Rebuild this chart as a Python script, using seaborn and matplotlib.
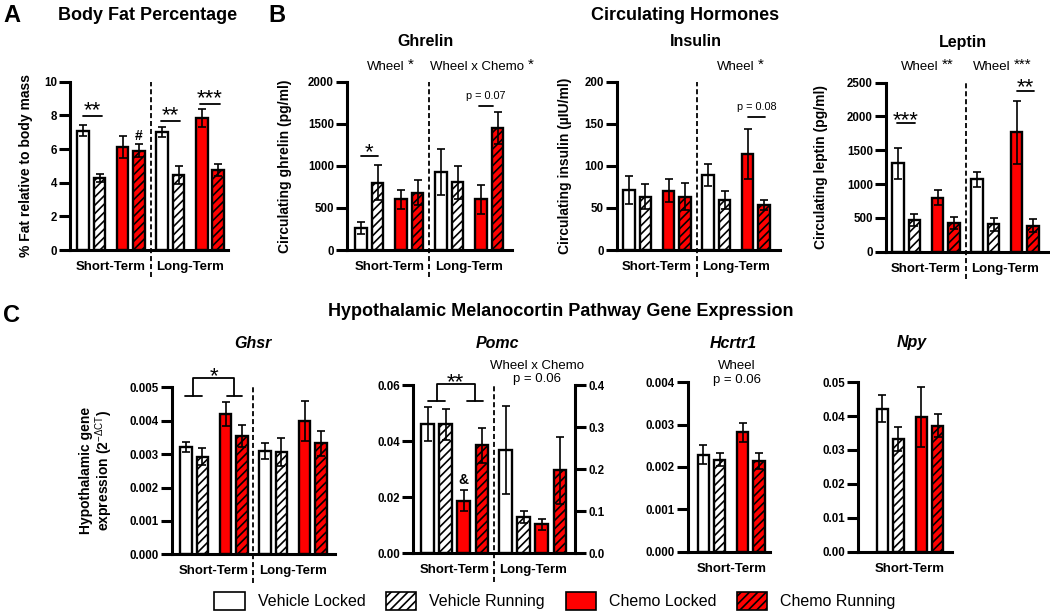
import numpy as np
import pandas as pd
import matplotlib
matplotlib.use("Agg")
import matplotlib.pyplot as plt
import seaborn as sns
from matplotlib.patches import Patch

# ---------------- data ----------------
conditions = ["Vehicle Locked", "Vehicle Running", "Chemo Locked", "Chemo Running"]
periods = ["Short-Term", "Long-Term"]

fat_mean = [7.1, 4.3, 6.1, 5.9, 7.0, 4.45, 7.85, 4.75]
fat_sem = [0.33, 0.23, 0.66, 0.4, 0.3, 0.55, 0.55, 0.38]

ghrelin_mean = [265, 800, 602, 681, 930, 804, 602, 1453]
ghrelin_sem = [70, 205, 112, 150, 275, 195, 170, 190]

insulin_mean = [71.3, 63.4, 70.5, 63.4, 89, 59.4, 114, 53.5]
insulin_sem = [17, 14.6, 13.5, 15.8, 12.7, 11, 30, 6]

leptin_mean = [1306, 469, 799, 429, 1071, 405, 1766, 385]
leptin_sem = [224, 89, 114, 89, 112, 98, 463, 99]

ghsr_mean = [0.00322, 0.00292, 0.00419, 0.00354, 0.00309, 0.00305, 0.00399, 0.00332]
ghsr_sem = [0.00015, 0.00025, 0.00036, 0.00034, 0.00025, 0.00042, 0.00061, 0.00038]

pomc_short_mean = [0.0462, 0.0460, 0.0188, 0.0385]
pomc_short_sem = [0.0060, 0.0055, 0.0036, 0.0063]
pomc_long_mean = [0.246, 0.0865, 0.069, 0.197]
pomc_long_sem = [0.105, 0.015, 0.013, 0.08]

hcrtr1_mean = [0.00229, 0.00217, 0.00282, 0.00214]
hcrtr1_sem = [0.00023, 0.00015, 0.00022, 0.00018]

npy_mean = [0.0422, 0.0332, 0.0398, 0.0372]
npy_sem = [0.0040, 0.0036, 0.0088, 0.0033]

# ---------------- style ----------------
sns.set_theme(style="ticks", rc={
    "axes.edgecolor": "black", "xtick.color": "black", "ytick.color": "black",
    "text.color": "black", "axes.labelcolor": "black"})
plt.rcParams["font.family"] = ["Liberation Sans", "DejaVu Sans"]
plt.rcParams["hatch.linewidth"] = 1.2
plt.rcParams["mathtext.fontset"] = "custom"
plt.rcParams["mathtext.rm"] = "Liberation Sans"
plt.rcParams["mathtext.it"] = "Liberation Sans:italic"
plt.rcParams["mathtext.bf"] = "Liberation Sans:bold"

RED = "#FF0000"
palette = {"Vehicle Locked": "white", "Vehicle Running": "white",
           "Chemo Locked": RED, "Chemo Running": RED}
HATCH = "////"

W, H = 1050, 613
fig = plt.figure(figsize=(W / 100, H / 100), dpi=100)
fig.patch.set_facecolor("white")


def px_ax(l, r, t, b):
    return fig.add_axes([l / W, 1 - b / H, (r - l) / W, (b - t) / H])


def ftext(x, y, s, **kw):
    kw.setdefault("ha", "center")
    kw.setdefault("va", "center")
    return fig.text(x / W, 1 - y / H, s, **kw)


def wheel_text(x, y, word, stars):
    t = ftext(x, y, word, ha="left", fontsize=9.5)
    fig.text(0, 0, "").set_visible(False)
    plt.gca()
    ann = matplotlib.text.Annotation(stars, xy=(1, 1), xycoords=t, xytext=(2.5, 2.2),
                                     textcoords="offset points", ha="left", va="top",
                                     fontsize=11)
    fig.add_artist(ann)


def pair_pos(n, start=0.0):
    return [start + i + 0.4 * (i // 2) for i in range(n)]


def draw_bars(ax, pos, means, sems):
    conds = [conditions[i % 4] for i in range(len(means))]
    df = pd.DataFrame({"pos": pos, "value": means, "condition": conds})
    sns.barplot(data=df, x="pos", y="value", hue="condition", hue_order=conditions,
                palette=palette, native_scale=True, dodge=False, width=0.7,
                saturation=1, errorbar=None, legend=False, edgecolor="black",
                linewidth=1.7, ax=ax, zorder=2)
    parr = np.array(pos)
    for p in ax.patches:
        cx = p.get_x() + p.get_width() / 2
        i = int(np.argmin(np.abs(parr - cx)))
        if "Running" in conds[i]:
            p.set_hatch(HATCH)
    ax.errorbar(pos, means, yerr=sems, fmt="none", ecolor="black", elinewidth=1.2,
                capsize=3, capthick=1.2, zorder=4)


def style_ax(ax, xlim, ymax, step, fmt, xt_pos=None, xt_lab=None):
    ax.set_xlim(*xlim)
    ax.set_ylim(0, ymax)
    ticks = np.linspace(0, ymax, int(round(ymax / step)) + 1)
    ax.set_yticks(ticks, labels=[fmt.format(t) for t in ticks], fontsize=8.3,
                  fontweight="bold")
    ax.tick_params(axis="y", length=8, width=2.2, pad=1.5, colors="black")
    if xt_pos is not None:
        ax.set_xticks(xt_pos, labels=xt_lab, fontsize=9.5, fontweight="bold")
    else:
        ax.set_xticks([])
    ax.tick_params(axis="x", length=0, pad=8)
    ax.spines[["top", "right"]].set_visible(False)
    for s in ("left", "bottom"):
        ax.spines[s].set_linewidth(2.2)
        ax.spines[s].set_color("black")
    ax.set_xlabel("")
    ax.set_ylabel("")
    ax.set_facecolor("none")


def ylab(ax, text, xcoord, size=10):
    ax.set_ylabel(text, fontsize=size, fontweight="bold", linespacing=1.05)
    ax.yaxis.set_label_coords(xcoord, 0.5)


def dashed(ax, x, below):
    ax.axvline(x, ymin=-below, ymax=1, clip_on=False, color="black", lw=1.3,
               ls=(0, (2.8, 1.6)), zorder=1)


def sig(ax, x0, x1, y, label, size=16, dy=0.0):
    ax.plot([x0, x1], [y, y], color="black", lw=1.3, clip_on=False)
    ax.annotate(label, xy=((x0 + x1) / 2, y), xytext=(0, dy), textcoords="offset points",
                ha="center", va="baseline", fontsize=size, annotation_clip=False)


def ptext(ax, x0, x1, y, label, size=7.8, dy=3.5):
    ax.plot([x0, x1], [y, y], color="black", lw=1.3, clip_on=False)
    ax.annotate(label, xy=((x0 + x1) / 2, y), xytext=(0, dy), textcoords="offset points",
                ha="center", va="bottom", fontsize=size, annotation_clip=False)


def bracket(ax, l0, l1, r0, r1, ylow, ytop, label, dy=-2.5):
    kw = dict(color="black", lw=1.3, clip_on=False)
    lm, rm = (l0 + l1) / 2, (r0 + r1) / 2
    ax.plot([l0, l1], [ylow, ylow], **kw)
    ax.plot([r0, r1], [ylow, ylow], **kw)
    ax.plot([lm, lm, rm, rm], [ylow, ytop, ytop, ylow], **kw)
    ax.annotate(label, xy=((lm + rm) / 2, ytop), xytext=(0, dy), textcoords="offset points",
                ha="center", va="baseline", fontsize=16, annotation_clip=False)


pos8 = pair_pos(8)
grp_centers = [(pos8[0] + pos8[3]) / 2, (pos8[4] + pos8[7]) / 2]
split8 = (pos8[3] + pos8[4]) / 2

# ---------------- Panel A ----------------
axA = px_ax(70, 228, 81.7, 250)
draw_bars(axA, pos8, fat_mean, fat_sem)
style_ax(axA, (-0.79, 8.79), 10, 2, "{:.0f}", grp_centers, periods)
ylab(axA, "% Fat relative to body mass", -0.236)
dashed(axA, split8, 0.16)
sig(axA, -0.03, 1.15, 7.96, "**")
sig(axA, 4.73, 5.88, 7.68, "**")
sig(axA, 7.1, 8.3, 8.67, "***")
axA.text(pos8[3], 6.55, "#", ha="center", va="baseline", fontsize=10, fontweight="bold")

# ---------------- Panel B ----------------
axG = px_ax(347, 512, 81.7, 250)
draw_bars(axG, pos8, ghrelin_mean, ghrelin_sem)
style_ax(axG, (-0.84, 9.07), 2000, 500, "{:.0f}", grp_centers, periods)
ylab(axG, "Circulating ghrelin (pg/ml)", -0.331)
dashed(axG, split8, 0.16)
sig(axG, -0.02, 1.04, 1117, "*", dy=-1.4)
ptext(axG, 7.09, 7.93, 1711, "p = 0.07")

axI = px_ax(617, 780, 81.7, 250)
draw_bars(axI, pos8, insulin_mean, insulin_sem)
style_ax(axI, (-0.73, 9.17), 200, 50, "{:.0f}", grp_centers, periods)
ylab(axI, "Circulating insulin (µIU/ml)", -0.276)
dashed(axI, split8, 0.16)
ptext(axI, 7.21, 8.26, 157.7, "p = 0.08")

axL = px_ax(886, 1048, 82.7, 251.7)
draw_bars(axL, pos8, leptin_mean, leptin_sem)
style_ax(axL, (-0.73, 9.11), 2500, 500, "{:.0f}", grp_centers, periods)
ylab(axL, "Circulating leptin (pg/ml)", -0.356)
dashed(axL, split8, 0.16)
sig(axL, -0.06, 1.03, 1900, "***", dy=-2)
sig(axL, 7.21, 8.26, 2382, "**", dy=-2)

# ---------------- Panel C ----------------
axGh = px_ax(172, 335, 387.3, 554.3)
draw_bars(axGh, pos8, ghsr_mean, ghsr_sem)
style_ax(axGh, (-0.85, 9.05), 0.005, 0.001, "{:.3f}", grp_centers, periods)
ylab(axGh, "Hypothalamic gene\nexpression (2$^{\\mathrm{-\\Delta CT}}$)", -0.35)
dashed(axGh, split8, 0.17)
bracket(axGh, -0.06, 0.95, 2.47, 3.38, 0.00474, 0.00527, "*")

short_pos = [0, 1, 2, 3]
long_pos = [4.3, 5.3, 6.3, 7.3]
axP = px_ax(413, 575, 385, 553.3)
draw_bars(axP, short_pos, pomc_short_mean, pomc_short_sem)
axP2 = axP.twinx()
draw_bars(axP2, long_pos, pomc_long_mean, pomc_long_sem)
style_ax(axP, (-0.8, 8.13), 0.06, 0.02, "{:.2f}", [1.5, 5.8], periods)
axP2.set_ylim(0, 0.4)
t2 = np.linspace(0, 0.4, 5)
axP2.set_yticks(t2, labels=["{:.1f}".format(t) for t in t2], fontsize=8.3, fontweight="bold")
axP2.tick_params(axis="y", length=8, width=2.2, pad=1.5, colors="black")
axP2.spines[["top", "left", "bottom"]].set_visible(False)
axP2.spines["right"].set_linewidth(2.2)
axP2.spines["right"].set_color("black")
axP2.set_ylabel("")
axP2.set_xlabel("")
axP.set_xlim(-0.8, 8.13)
dashed(axP, 3.65, 0.17)
bracket(axP, 0.04, 0.96, 2.16, 3.07, 0.0543, 0.0602, "**")
axP.text(2, 0.0247, "&", ha="center", va="baseline", fontsize=10, fontweight="bold")

axH = px_ax(688, 770, 382.3, 551.5)
draw_bars(axH, pair_pos(4), hcrtr1_mean, hcrtr1_sem)
style_ax(axH, (-0.95, 4.08), 0.004, 0.001, "{:.3f}", [1.7], ["Short-Term"])

axN = px_ax(858, 952, 382.3, 551.5)
draw_bars(axN, pair_pos(4), npy_mean, npy_sem)
style_ax(axN, (-1.49, 4.29), 0.05, 0.01, "{:.2f}", [1.7], ["Short-Term"])

# ---------------- titles & texts ----------------
ftext(3, 15, "A", ha="left", fontsize=17, fontweight="bold")
ftext(268, 15, "B", ha="left", fontsize=17, fontweight="bold")
ftext(3, 316, "C", ha="left", fontsize=17, fontweight="bold")

ftext(148, 15, "Body Fat Percentage", fontsize=13, fontweight="bold")
ftext(685, 15, "Circulating Hormones", fontsize=13, fontweight="bold")
ftext(561, 312, "Hypothalamic Melanocortin Pathway Gene Expression", fontsize=13,
      fontweight="bold")

for name, x in (("Ghrelin", 425), ("Insulin", 696), ("Leptin", 963)):
    ftext(x, 42, name, fontsize=11.5, fontweight="bold")
for name, x in (("Ghsr", 253), ("Pomc", 497), ("Hcrtr1", 733), ("Npy", 912)):
    ftext(x, 343, name, fontsize=11.5, fontweight="bold", fontstyle="italic")

wheel_text(367, 66.7, "Wheel", "*")
wheel_text(430, 66.7, "Wheel x Chemo", "*")
wheel_text(717, 66.7, "Wheel", "*")
wheel_text(900.7, 66.7, "Wheel", "**")
wheel_text(972.7, 66.7, "Wheel", "***")
ftext(536.7, 372.5, "Wheel x Chemo\np = 0.06", fontsize=9.5, linespacing=1.15)
ftext(736.7, 373, "Wheel\np = 0.06", fontsize=9.5, linespacing=1.15)

# ---------------- legend ----------------
handles = [Patch(facecolor=palette[c], edgecolor="black",
                 hatch=HATCH if "Running" in c else None, linewidth=1.2, label=c)
           for c in conditions]
fig.legend(handles=handles, loc="center", bbox_to_anchor=(555 / W, 1 - 601 / H), ncol=4,
           frameon=False, fontsize=11.5, handlelength=1.9, handleheight=1.3,
           handletextpad=0.8, columnspacing=1.3)

fig.savefig("out.png", dpi=100, facecolor="white")
